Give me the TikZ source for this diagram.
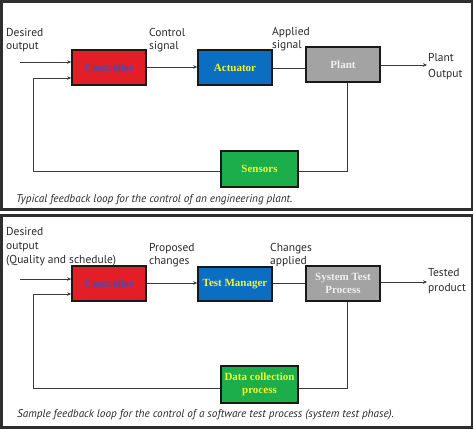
\documentclass[tikz,border=0pt]{standalone}
\usepackage{fontspec}
\setmainfont{PT Sans}
\newfontfamily\boxfont{Liberation Serif}
\usetikzlibrary{arrows.meta}
\definecolor{cred}{HTML}{E41E26}
\definecolor{cblue}{HTML}{0A6FC2}
\definecolor{cgray}{HTML}{A3A3A3}
\definecolor{cgreen}{HTML}{1BAE4B}
\definecolor{ctxtblue}{HTML}{4A4AB0}
\definecolor{ctxtyel}{HTML}{F0F530}
\definecolor{cframe}{HTML}{2E2E2E}
\definecolor{cline}{HTML}{3A3A3A}
\definecolor{ctext}{HTML}{2A2A2A}
\tikzset{
  blk/.style={draw=black!90, line width=1.6pt, minimum width=74pt, minimum height=35pt, inner sep=1pt, align=center, font=\boxfont\bfseries\fontsize{11}{12.5}\selectfont},
  conn/.style={draw=cline, line width=0.8pt},
  arr/.style={conn, -{Stealth[length=4pt,width=3.5pt]}},
  lbl/.style={anchor=base west, inner sep=0pt, text=ctext, font=\fontsize{11.5}{13}\selectfont},
  captxt/.style={anchor=base west, inner sep=0pt, text=ctext, font=\itshape\fontsize{11.2}{13}\selectfont},
  framebox/.style={draw=cframe, line width=2.6pt}
}
\begin{document}
\begin{tikzpicture}[x=1pt, y=-1pt]
\useasboundingbox (0,0) rectangle (474,429);
% frames
\draw[framebox] (1.5,1.5) rectangle (472,209.5);
\draw[framebox] (1.5,215.5) rectangle (472,427.5);

% ---------- panel 1 ----------
\node[blk, fill=cred, text=ctxtblue] (ctrl1) at (109,67.5) {Controller};
\node[blk, fill=cblue, text=ctxtyel] (act1) at (235,67.5) {Actuator};
\node[blk, fill=cgray, text=white!94!black] (plant1) at (343,64.5) {Plant};
\node[blk, fill=cgreen, text=ctxtyel, minimum width=77pt, minimum height=36pt] (sens1) at (259.5,169) {Sensors};

\coordinate (in1) at (20,62);
\coordinate (out1) at (427,65);
\coordinate (fbl1) at (33,171);
\coordinate (fbr1) at (347,171);

\draw[arr] (in1) -- (in1 -| ctrl1.west);
\draw[arr] (ctrl1.east |- 0,67) -- (act1.west |- 0,67);
\draw[conn] (act1.east |- 0,68) -- (plant1.west |- 0,68);
\draw[arr] (plant1.east |- out1) -- (out1);
\draw[conn] (plant1.south -| fbr1) -- (fbr1) -- (sens1.east |- fbr1);
\draw[arr] (sens1.west |- fbl1) -- (fbl1) -- (33,78) -- (ctrl1.west |- 0,78);

\node[lbl] (t1a) at (6,36) {Desired};
\node[lbl] (t1b) at (6,49) {output};
\node[lbl] (t1c) at (149,36) {Control};
\node[lbl] (t1d) at (149,49) {signal};
\node[lbl] (t1e) at (272,35) {Applied};
\node[lbl] (t1f) at (272,48) {signal};
\node[lbl] (t1g) at (428,61.5) {Plant};
\node[lbl] (t1h) at (428,77) {Output};
\node[captxt] (cap1) at (16,202) {Typical feedback loop for the control of an engineering plant.};

% ---------- panel 2 ----------
\node[blk, fill=cred, text=ctxtblue] (ctrl2) at (109,283.5) {Controller};
\node[blk, fill=cblue, text=ctxtyel, minimum height=34pt] (tm2) at (235,284) {Test Manager};
\node[blk, fill=cgray, text=white!94!black] (stp2) at (343,283.5) {System Test\\Process};
\node[blk, fill=cgreen, text=ctxtyel, minimum width=77pt, minimum height=37pt] (dc2) at (259.5,384.5) {Data collection\\process};

\coordinate (in2) at (20,279);
\coordinate (out2) at (427,282);
\coordinate (fbl2) at (33,388);
\coordinate (fbr2) at (347,388);

\draw[arr] (in2) -- (in2 -| ctrl2.west);
\draw[arr] (ctrl2.east |- 0,283) -- (tm2.west |- 0,283);
\draw[conn] (tm2.east |- 0,283) -- (stp2.west |- 0,283);
\draw[arr] (stp2.east |- out2) -- (out2);
\draw[conn] (stp2.south -| fbr2) -- (fbr2) -- (dc2.east |- fbr2);
\draw[arr] (dc2.west |- fbl2) -- (fbl2) -- (33,294) -- (ctrl2.west |- 0,294);

\node[lbl] (t2a) at (6,235) {Desired};
\node[lbl] (t2b) at (6,249) {output};
\node[lbl] (t2c) at (6,263) {(Quality and schedule)};
\node[lbl] (t2d) at (149,251) {Proposed};
\node[lbl] (t2e) at (149,264) {changes};
\node[lbl] (t2f) at (270,251) {Changes};
\node[lbl] (t2g) at (270,264) {applied};
\node[lbl] (t2h) at (428,276.5) {Tested};
\node[lbl] (t2i) at (428,291) {product};
\node[captxt] (cap2) at (17,417) {Sample feedback loop for the control of a software test process (system test phase).};
\end{tikzpicture}
\end{document}
